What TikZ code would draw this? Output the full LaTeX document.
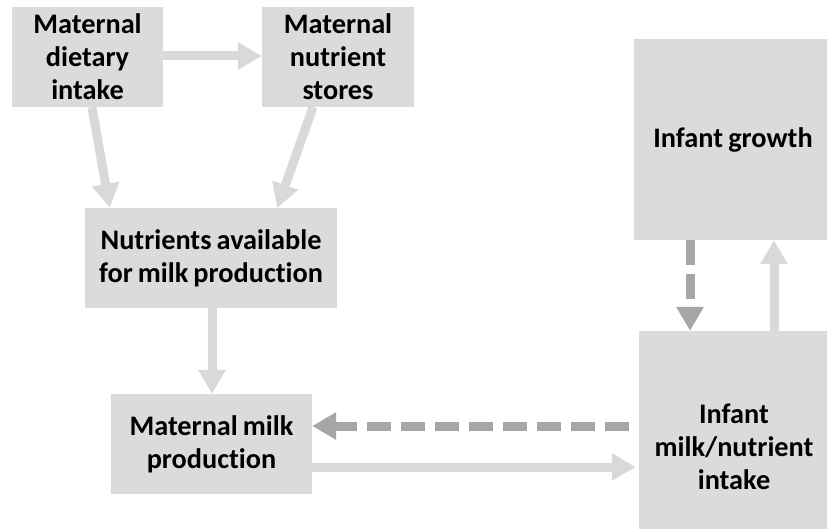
\documentclass[tikz,border=0pt]{standalone}
\usepackage{fontspec}
\setmainfont{Carlito}[Ligatures=NoCommon]
\usetikzlibrary{arrows.meta,calc}
\definecolor{boxgray}{HTML}{DBDBDB}
\definecolor{arrowlight}{HTML}{D9D9D9}
\definecolor{arrowdark}{HTML}{A6A6A6}
\newcommand\myboxfont{\fontsize{28.3}{33}\selectfont\bfseries\spaceskip=0.18em plus 0.05em\relax}
\begin{document}
\begin{tikzpicture}[x=1pt,y=-1pt,
  box/.style={fill=boxgray, draw=none, inner sep=0pt, align=center,
    font=\myboxfont, text=black},
  solidarrow/.style={draw=arrowlight, line width=9pt,
    -{Triangle[length=24pt,width=26pt]}},
  dasharrow/.style={draw=arrowdark, line width=9pt,
    -{Triangle[length=24pt,width=26pt]}}]
\useasboundingbox (0,0) rectangle (827,529);
\fill[white] (0,0) rectangle (827,529);

\node[box, minimum width=151pt, minimum height=100pt] (b1) at (87.5,57) {Maternal\\dietary\\intake};
\node[box, minimum width=152pt, minimum height=100pt] (b2) at (338,57) {Maternal\\nutrient\\stores};
\node[box, minimum width=252pt, minimum height=100pt] (b3) at (211,258) {Nutrients available\\for milk production};
\node[box, minimum width=201pt, minimum height=100pt] (b4) at (211.5,444) {Maternal milk\\production};
\node[box, minimum width=198pt, minimum height=201pt] (b5) at (733,139.5) {Infant growth};
\node[box, minimum width=190pt, minimum height=232pt] (b6) at (734,447) {Infant\\milk/nutrient\\intake};

\draw[solidarrow] (b1.east |- 0,56) -- (b2.west |- 0,56);
\draw[solidarrow] ($(b1.south)+(4.5,0)$) -- ($(b3.north west)+(25,0)$);
\draw[solidarrow] ($(b2.south)+(-25,0)$) -- ($(b3.north east)+(-60,0)$);
\draw[solidarrow] (b3.south -| 212,0) -- (b4.north -| 212,0);
\draw[solidarrow] (b4.east |- 0,467) -- ($(b6.west |- 0,467)+(-3,0)$);
\draw[solidarrow] (b6.north -| 774,0) -- (b5.south -| 774,0);

\draw[dasharrow, dash pattern=on 24pt off 10pt, dash phase=24pt] (b6.west |- 0,426) -- (b4.east |- 0,426);
\draw[dasharrow, dash pattern=on 25pt off 9pt] (b5.south -| 690,0) -- (b6.north -| 690,0);
\end{tikzpicture}
\end{document}
